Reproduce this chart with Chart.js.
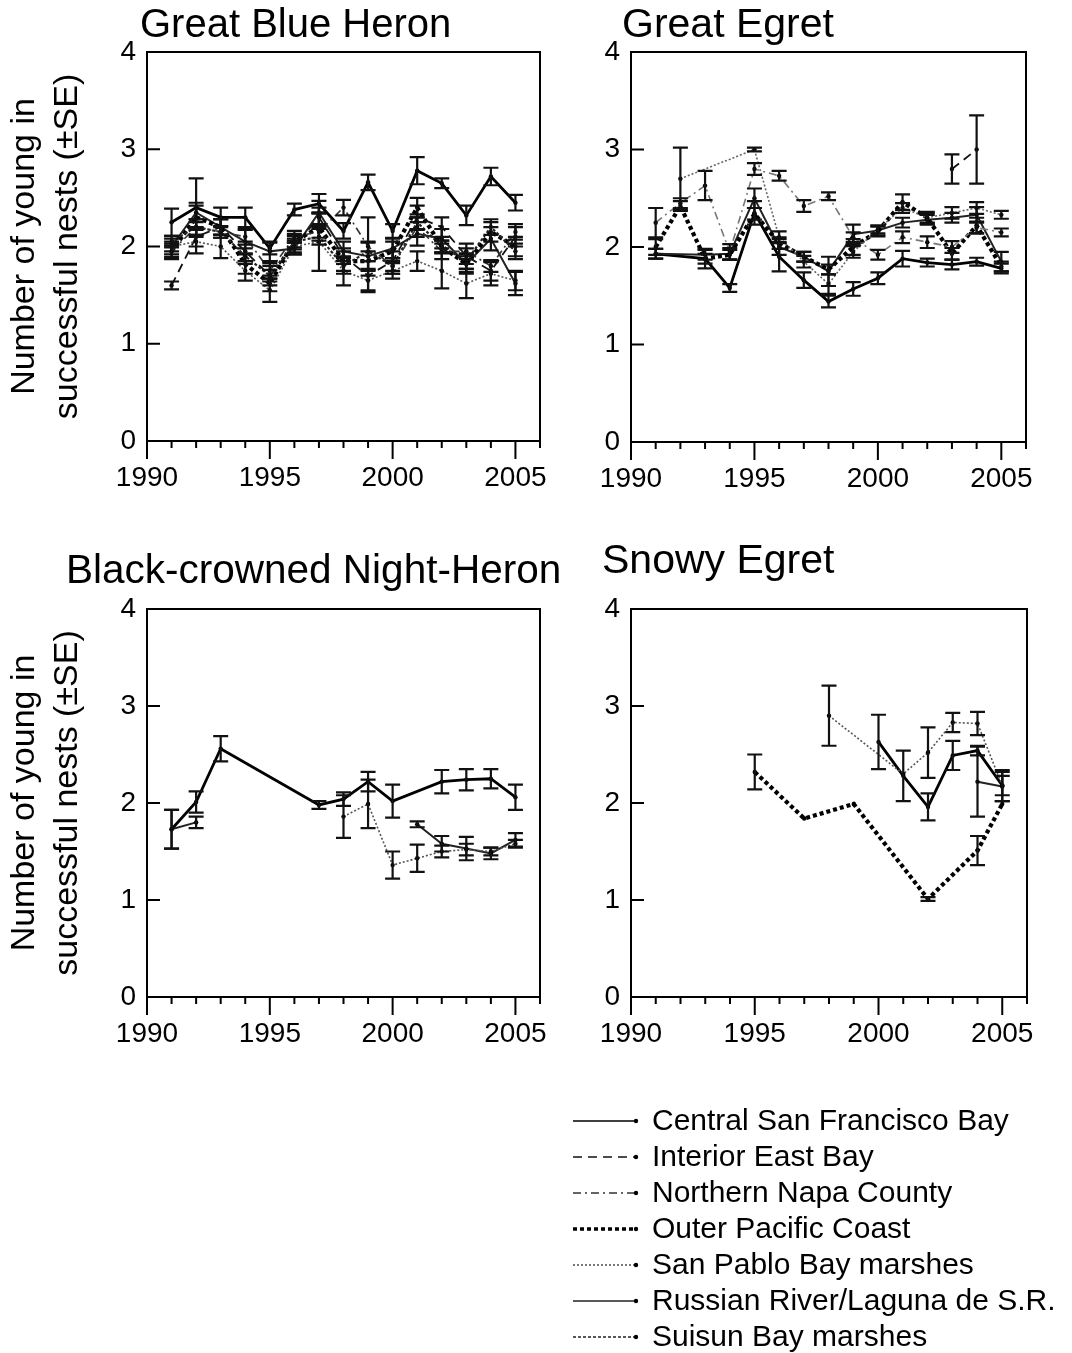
<!DOCTYPE html>
<html>
<head>
<meta charset="utf-8">
<script src="https://cdn.jsdelivr.net/npm/chart.js@4.4.1/dist/chart.umd.min.js"></script>
<style>
  body { margin: 0; background: #fff; width: 1072px; height: 1353px; position: relative; overflow: hidden; }
  canvas { position: absolute; }
</style>
</head>
<body>
<canvas id="gbh" width="560" height="520" style="left:0;top:0"></canvas>
<canvas id="ge" width="512" height="520" style="left:560px;top:0"></canvas>
<canvas id="bcnh" width="560" height="520" style="left:0;top:540px"></canvas>
<canvas id="se" width="512" height="520" style="left:560px;top:540px"></canvas>
<canvas id="legend" width="512" height="258" style="left:560px;top:1095px"></canvas>
<script>
const YEARS = [1991, 1992, 1993, 1994, 1995, 1996, 1997, 1998, 1999, 2000, 2001, 2002, 2003, 2004, 2005];
const X_LABELS = [1990, 1995, 2000, 2005];
const Y_TICKS = [0, 1, 2, 3, 4];

const REGIONS = ['Central San Francisco Bay', 'Interior East Bay', 'Northern Napa County', 'Outer Pacific Coast',
  'San Pablo Bay marshes', 'Russian River/Laguna de S.R.', 'Suisun Bay marshes'];
const REGION_KEYS = ['central', 'interior', 'napa', 'outer', 'sanPablo', 'russian', 'suisun'];

// Great Blue Heron
const gbhCentral   = [2.25, 2.40, 2.30, 2.30, 1.98, 2.38, 2.44, 2.16, 2.66, 2.16, 2.78, 2.65, 2.32, 2.72, 2.45];
const gbhCentralSE = [0.14, 0.30, 0.10, 0.10, 0.06, 0.06, 0.10, 0.08, 0.08, 0.07, 0.14, 0.05, 0.10, 0.09, 0.08];
const gbhRussian   = [2.00, 2.35, 2.20, 2.05, 1.95, 1.98, 2.35, 1.95, 1.90, 1.98, 2.13, 2.08, 1.82, 2.08, 1.62];
const gbhRussianSE = [0.08, 0.10, 0.08, 0.12, 0.10, 0.06, 0.12, 0.10, 0.14, 0.10, 0.12, 0.10, 0.10, 0.12, 0.12];
const gbhOuter     = [1.95, 2.30, 2.20, 1.82, 1.62, 2.05, 2.20, 1.85, 1.85, 1.95, 2.40, 2.00, 1.82, 2.15, 2.00];
const gbhOuterSE   = [0.06, 0.12, 0.08, 0.10, 0.08, 0.08, 0.14, 0.10, 0.10, 0.10, 0.10, 0.06, 0.08, 0.10, 0.10];
const gbhSanPablo  = [2.00, 2.05, 2.00, 1.75, 1.55, 2.00, 2.05, 1.75, 1.65, 1.75, 1.85, 1.75, 1.62, 1.72, 1.65];
const gbhSanPabloSE= [0.05, 0.12, 0.12, 0.10, 0.12, 0.06, 0.30, 0.15, 0.12, 0.08, 0.10, 0.18, 0.15, 0.12, 0.10];
const gbhInterior  = [1.60, 2.10, 2.20, 1.95, 1.70, 2.00, 2.30, 1.90, 1.70, 1.85, 2.30, 2.20, 1.90, 1.75, 2.10];
const gbhInteriorSE= [0.04, 0.10, 0.08, 0.10, 0.10, 0.08, 0.10, 0.08, 0.15, 0.10, 0.12, 0.10, 0.08, 0.10, 0.10];
const gbhNapa      = [1.95, 2.20, 2.15, 2.10, 1.75, 2.10, 2.15, 2.40, 2.00, 1.80, 2.20, 1.95, 1.95, 1.80, 2.15];
const gbhNapaSE    = [0.08, 0.08, 0.06, 0.08, 0.08, 0.06, 0.06, 0.08, 0.30, 0.08, 0.10, 0.08, 0.08, 0.06, 0.08];
const gbhSuisun    = [2.05, 2.20, 2.15, 1.90, 1.70, 2.05, 2.10, 1.80, 1.95, 1.80, 2.25, 2.00, 1.85, 2.20, 1.95];
const gbhSuisunSE  = [0.06, 0.08, 0.06, 0.08, 0.06, 0.06, 0.08, 0.08, 0.10, 0.08, 0.08, 0.06, 0.08, 0.08, 0.08];

// Great Egret
const geOuter      = [2.00, 2.42, 1.88, 1.92, 2.34, 2.04, 1.90, 1.77, 2.00, 2.16, 2.46, 2.30, 1.93, 2.22, 1.80];
const geOuterSE    = [0.08, 0.05, 0.05, 0.05, 0.06, 0.06, 0.05, 0.05, 0.08, 0.05, 0.08, 0.06, 0.06, 0.08, 0.05];
const geCentral    = [1.93, null, 1.88, 1.58, 2.35, 1.90, 1.66, 1.44, 1.57, 1.68, 1.88, 1.84, 1.82, 1.85, 1.78];
const geCentralSE  = [0.05, null, 0.10, 0.04, 0.12, 0.15, 0.08, 0.06, 0.07, 0.06, 0.08, 0.04, 0.05, 0.04, 0.05];
const geRussian    = [1.93, null, 1.92, 1.93, 2.50, 2.00, 1.90, 1.75, 2.13, 2.17, 2.25, 2.28, 2.30, 2.33, 1.85];
const geRussianSE  = [0.05, null, 0.05, 0.06, 0.10, 0.08, 0.05, 0.15, 0.10, 0.05, 0.05, 0.05, 0.05, 0.08, 0.10];
const geNapa       = [2.25, 2.45, 2.63, 1.95, 2.80, 2.73, 2.42, 2.52, 2.10, 1.92, 2.10, 2.05, 2.00, 2.20, 2.15];
const geNapaSE     = [0.15, 0.05, 0.15, 0.08, 0.06, 0.05, 0.06, 0.04, 0.05, 0.05, 0.06, 0.06, 0.06, 0.06, 0.04];
const geSanPablo   = [null, 2.70, null, null, 3.00, 2.10, 1.85, 1.62, 1.95, 2.18, 2.40, 2.30, 2.35, 2.40, 2.33];
const geSanPabloSE = [null, 0.32, null, null, 0.02, 0.06, 0.06, 0.10, 0.06, 0.04, 0.05, 0.05, 0.06, 0.06, 0.04];
const geInterior   = [null, null, null, null, null, null, null, null, null, null, null, null, 2.80, 3.00, null];
const geInteriorSE = [null, null, null, null, null, null, null, null, null, null, null, null, 0.15, 0.35, null];

// Black-crowned Night-Heron
const bcCentral    = [1.73, 2.01, 2.56, null, null, null, 1.98, 2.04, 2.22, 2.02, null, 2.22, 2.24, 2.25, 2.06];
const bcCentralSE  = [0.20, 0.11, 0.13, null, null, null, 0.04, 0.07, 0.10, 0.17, null, 0.12, 0.11, 0.10, 0.13];
const bcEarly      = [1.73, 1.80, null, null, null, null, null, null, null, null, null, null, null, null, null];
const bcEarlySE    = [0.20, 0.06, null, null, null, null, null, null, null, null, null, null, null, null, null];
const bcRussian    = [null, null, null, null, null, null, null, null, null, null, 1.78, 1.58, 1.53, 1.48, 1.62];
const bcRussianSE  = [null, null, null, null, null, null, null, null, null, null, 0.03, 0.08, 0.12, 0.06, 0.07];
const bcSanPablo   = [null, null, null, null, null, null, null, 1.86, 1.99, 1.36, 1.43, 1.50, 1.52, 1.50, 1.58];
const bcSanPabloSE = [null, null, null, null, null, null, null, 0.22, 0.25, 0.14, 0.14, 0.06, 0.06, 0.04, 0.04];

// Snowy Egret
const seOuter      = [null, null, null, null, 2.32, null, 1.84, null, 1.99, null, null, 1.01, null, 1.51, 1.99];
const seOuterSE    = [null, null, null, null, 0.18, null, 0.00, null, 0.00, null, null, 0.02, null, 0.15, 0.00];
const seSanPablo   = [null, null, null, null, null, null, null, 2.90, null, null, 2.30, 2.52, 2.83, 2.82, 2.18];
const seSanPabloSE = [null, null, null, null, null, null, null, 0.31, null, null, 0.00, 0.26, 0.10, 0.12, 0.10];
const seCentral    = [null, null, null, null, null, null, null, null, null, 2.63, 2.28, 1.96, 2.49, 2.54, 2.18];
const seCentralSE  = [null, null, null, null, null, null, null, null, null, 0.28, 0.26, 0.14, 0.15, 0.05, 0.16];
const seRussian    = [null, null, null, null, null, null, null, null, null, null, null, null, null, 2.22, 2.17];
const seRussianSE  = [null, null, null, null, null, null, null, null, null, null, null, null, null, 0.36, 0.15];

const FONT = '"Liberation Sans", Arial, sans-serif';

const STYLE = {
  central:  { borderColor: '#000', borderWidth: 2.8, borderDash: [] },
  interior: { borderColor: '#111', borderWidth: 1.8, borderDash: [9, 6] },
  napa:     { borderColor: '#333', borderWidth: 1.6, borderDash: [8, 4, 2, 4] },
  outer:    { borderColor: '#000', borderWidth: 4.2, borderDash: [4, 3] },
  sanPablo: { borderColor: '#555', borderWidth: 1.6, borderDash: [2, 2] },
  russian:  { borderColor: '#222', borderWidth: 2,   borderDash: [] },
  suisun:   { borderColor: '#222', borderWidth: 2.2, borderDash: [3, 2] }
};

function series(key, vals, se, color) {
  const pts = [];
  YEARS.forEach((yr, i) => {
    if (vals[i] != null) pts.push({ x: yr, y: vals[i], se: se ? se[i] : 0 });
  });
  const st = STYLE[key];
  return {
    label: REGIONS[REGION_KEYS.indexOf(key)],
    data: pts,
    borderColor: color || st.borderColor,
    borderWidth: st.borderWidth,
    borderDash: st.borderDash,
    pointRadius: 2.2,
    pointBackgroundColor: '#000',
    pointBorderWidth: 0,
    fill: false,
    tension: 0
  };
}

// vertical error bars with caps
const errorBars = {
  id: 'errorBars',
  afterDatasetsDraw(chart) {
    const { ctx, scales: { x, y } } = chart;
    ctx.save();
    ctx.strokeStyle = '#111';
    ctx.lineWidth = 2.2;
    ctx.setLineDash([]);
    chart.data.datasets.forEach(ds => {
      ds.data.forEach(p => {
        if (!p.se) return;
        const px = x.getPixelForValue(p.x);
        const top = y.getPixelForValue(p.y + p.se);
        const bot = y.getPixelForValue(p.y - p.se);
        ctx.beginPath();
        ctx.moveTo(px, top); ctx.lineTo(px, bot);
        ctx.moveTo(px - 7.5, top); ctx.lineTo(px + 7.5, top);
        ctx.moveTo(px - 7.5, bot); ctx.lineTo(px + 7.5, bot);
        ctx.stroke();
      });
    });
    ctx.restore();
  }
};

// box around the plot, inward y ticks, downward x ticks, panel title
const frame = {
  id: 'frame',
  afterDraw(chart, args, opts) {
    const { ctx, chartArea: a, scales: { x, y } } = chart;
    ctx.save();
    ctx.strokeStyle = '#000';
    ctx.lineWidth = 2;
    ctx.strokeRect(a.left, a.top, a.right - a.left, a.bottom - a.top);
    ctx.beginPath();
    y.ticks.forEach(t => {
      const py = y.getPixelForValue(t.value);
      ctx.moveTo(a.left, py); ctx.lineTo(a.left + 13, py);
    });
    x.ticks.forEach(t => {
      const px = x.getPixelForValue(t.value);
      const len = t.value % 5 === 0 && t.value < 2006 ? 18 : 7;
      ctx.moveTo(px, a.bottom); ctx.lineTo(px, a.bottom + len);
    });
    ctx.stroke();
    if (opts.text) {
      ctx.fillStyle = '#000';
      ctx.font = opts.size + 'px ' + FONT;
      ctx.textBaseline = 'alphabetic';
      ctx.fillText(opts.text, opts.x, opts.y);
    }
    ctx.restore();
  }
};

function makePanel(id, datasets, p) {
  return new Chart(document.getElementById(id), {
    type: 'line',
    data: { datasets },
    options: {
      responsive: false,
      animation: false,
      devicePixelRatio: 1,
      layout: { padding: { top: p.top, right: p.right, left: 0, bottom: 0 } },
      plugins: {
        legend: { display: false },
        tooltip: { enabled: false },
        frame: { text: p.title, x: p.tx, y: p.ty, size: p.tsize || 40 }
      },
      scales: {
        x: {
          type: 'linear',
          min: 1990,
          max: 2006,
          afterFit: s => { s.height = p.xh; },
          afterBuildTicks: s => { s.ticks = []; for (let v = 1990; v <= 2006; v++) s.ticks.push({ value: v }); },
          ticks: {
            padding: 20,
            autoSkip: false,
            maxRotation: 0,
            color: '#000',
            font: { family: FONT, size: 28 },
            callback: v => X_LABELS.includes(v) ? String(v) : ''
          },
          grid: { display: false, drawTicks: false },
          border: { display: false }
        },
        y: {
          min: 0,
          max: 4,
          afterFit: s => { s.width = p.yw; },
          afterBuildTicks: s => { s.ticks = Y_TICKS.map(v => ({ value: v })); },
          ticks: { padding: 11, color: '#000', font: { family: FONT, size: 28 } },
          grid: { display: false, drawTicks: false },
          border: { display: false },
          title: {
            display: !!p.yTitle,
            text: ['Number of young in', 'successful nests (\u00b1SE)'],
            color: '#000',
            font: { family: FONT, size: 34, lineHeight: 1.265 },
            padding: { top: 3.5, bottom: 0 }
          }
        }
      }
    },
    plugins: [errorBars, frame]
  });
}

makePanel('gbh', [
  series('sanPablo', gbhSanPablo, gbhSanPabloSE),
  series('interior', gbhInterior, gbhInteriorSE),
  series('napa', gbhNapa, gbhNapaSE),
  series('suisun', gbhSuisun, gbhSuisunSE),
  series('outer', gbhOuter, gbhOuterSE),
  series('russian', gbhRussian, gbhRussianSE),
  series('central', gbhCentral, gbhCentralSE)
], { top: 52, right: 19, yw: 147, xh: 79, yTitle: true, title: 'Great Blue Heron', tx: 140, ty: 37, tsize: 40 });

makePanel('ge', [
  series('sanPablo', geSanPablo, geSanPabloSE, '#666'),
  series('napa', geNapa, geNapaSE, '#777'),
  series('interior', geInterior, geInteriorSE),
  series('outer', geOuter, geOuterSE),
  series('russian', geRussian, geRussianSE),
  series('central', geCentral, geCentralSE)
], { top: 52, right: 46, yw: 71, xh: 78, yTitle: false, title: 'Great Egret', tx: 62, ty: 37, tsize: 41 });

makePanel('bcnh', [
  series('sanPablo', bcSanPablo, bcSanPabloSE),
  series('russian', bcRussian, bcRussianSE),
  series('russian', bcEarly, bcEarlySE),
  series('central', bcCentral, bcCentralSE)
], { top: 69, right: 18, yw: 147, xh: 63, yTitle: true, title: 'Black-crowned Night-Heron', tx: 66, ty: 43, tsize: 40.5 });

makePanel('se', [
  series('sanPablo', seSanPablo, seSanPabloSE),
  series('outer', seOuter, seOuterSE),
  series('russian', seRussian, seRussianSE),
  series('central', seCentral, seCentralSE)
], { top: 69, right: 45, yw: 71, xh: 63, yTitle: false, title: 'Snowy Egret', tx: 42, ty: 33, tsize: 41 });

// legend
(function drawLegend() {
  const ctx = document.getElementById('legend').getContext('2d');
  ctx.font = '30px ' + FONT;
  ctx.textBaseline = 'middle';
  REGION_KEYS.forEach((key, i) => {
    const st = STYLE[key];
    const cy = 26 + i * 36;
    ctx.strokeStyle = st.borderColor;
    ctx.lineWidth = key === 'outer' ? 3.5 : 1.6;
    ctx.setLineDash(st.borderDash);
    ctx.beginPath();
    ctx.moveTo(13, cy); ctx.lineTo(75, cy);
    ctx.stroke();
    ctx.setLineDash([]);
    ctx.fillStyle = '#000';
    ctx.beginPath(); ctx.arc(76, cy, 2.2, 0, Math.PI * 2); ctx.fill();
    ctx.fillText(REGIONS[i], 92, cy + 1);
  });
})();
</script>
</body>
</html>
